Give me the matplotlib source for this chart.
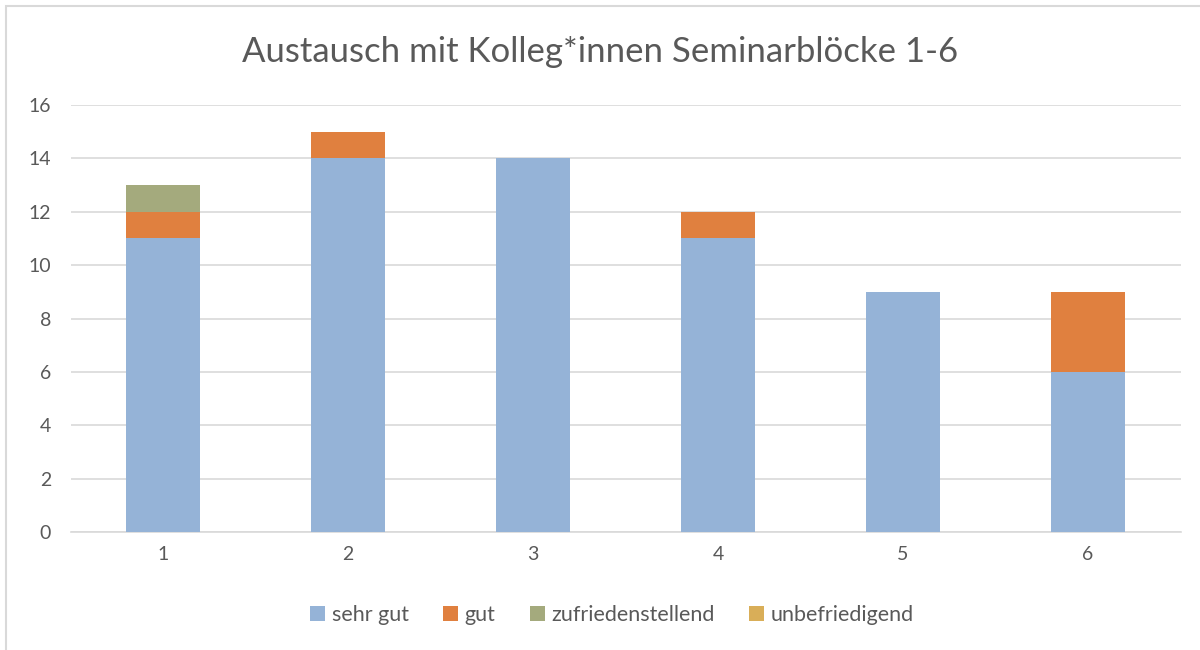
import matplotlib.pyplot as plt
from matplotlib.patches import Rectangle

blocks = ["1", "2", "3", "4", "5", "6"]
sehr_gut = [11, 14, 14, 11, 9, 6]
gut = [1, 1, 0, 1, 0, 3]
zufrieden = [1, 0, 0, 0, 0, 0]
unbefriedigend = [0, 0, 0, 0, 0, 0]

series_names = ["sehr gut", "gut", "zufriedenstellend", "unbefriedigend"]
colors = ["#95B3D7", "#E0803F", "#A4AA7D", "#D9AE58"]

plt.rcParams["font.family"] = ["Lato", "DejaVu Sans"]
text_color = "#595959"

fig = plt.figure(figsize=(12, 6.5), dpi=100)
ax = fig.add_axes([0.05875, 0.1815, 0.925, 0.657])

x = range(len(blocks))
bottom = [0] * len(blocks)
for vals, name, col in zip([sehr_gut, gut, zufrieden, unbefriedigend], series_names, colors):
    ax.bar(x, vals, width=0.4, bottom=bottom, color=col, label=name, zorder=3)
    bottom = [b + v for b, v in zip(bottom, vals)]

ax.set_xlim(-0.5, len(blocks) - 0.5)
ax.set_ylim(0, 16)
ax.set_yticks(range(0, 17, 2))
ax.set_xticks(list(x))
ax.set_xticklabels(blocks)
ax.grid(axis="y", color="#D9D9D9", linewidth=1.2, zorder=0)
for s in ["top", "right", "left"]:
    ax.spines[s].set_visible(False)
ax.spines["bottom"].set_color("#D9D9D9")
ax.spines["bottom"].set_linewidth(1.2)
ax.tick_params(length=0, labelsize=14, colors=text_color, pad=10)
ax.tick_params(axis="y", pad=14)

fig.suptitle("Austausch mit Kolleg*innen Seminarblöcke 1-6", y=0.945,
             fontsize=25, color=text_color)

fig.legend(loc="center", bbox_to_anchor=(0.51, 0.054), ncol=4, frameon=False,
           fontsize=15.5, labelcolor=text_color, handlelength=0.7, handleheight=0.7,
           handletextpad=0.3, columnspacing=1.6)

# chart border (only top and left edges visible in the crop)
fig.patches.append(Rectangle((6 / 1200, -0.1), 1.2, 1.1 - 6 / 650,
                             transform=fig.transFigure, fill=False,
                             edgecolor="#D9D9D9", linewidth=1.5))

fig.savefig("out.png", dpi=100)
